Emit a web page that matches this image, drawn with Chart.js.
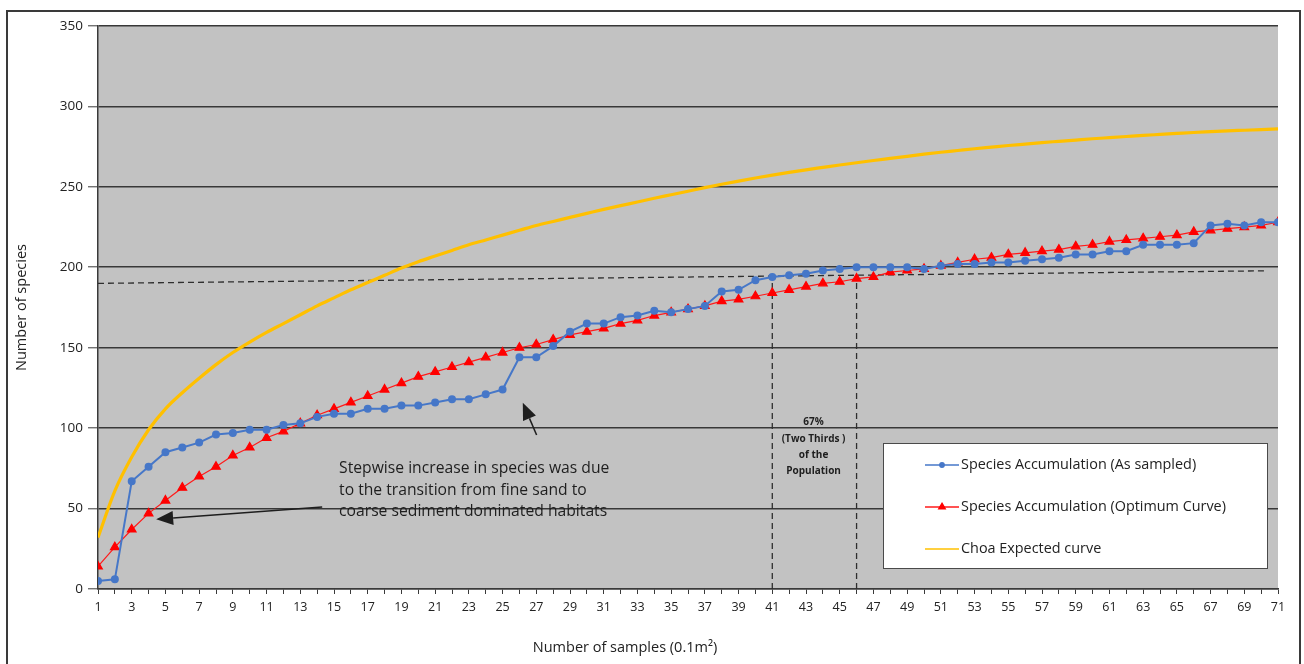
<!DOCTYPE html>
<html>
<head>
<meta charset="utf-8">
<script src="https://cdn.jsdelivr.net/npm/chart.js@4.4.1/dist/chart.umd.min.js"></script>
<style>
  html, body { margin: 0; padding: 0; background: #fff; }
  #wrap { width: 1304px; height: 664px; }
</style>
</head>
<body>
<div id="wrap"><canvas id="species-chart" width="1304" height="664"></canvas></div>
<script>
var samples = [1, 2, 3, 4, 5, 6, 7, 8, 9, 10, 11, 12, 13, 14, 15, 16, 17, 18, 19, 20,
    21, 22, 23, 24, 25, 26, 27, 28, 29, 30, 31, 32, 33, 34, 35, 36, 37, 38, 39, 40,
    41, 42, 43, 44, 45, 46, 47, 48, 49, 50, 51, 52, 53, 54, 55, 56, 57, 58, 59, 60,
    61, 62, 63, 64, 65, 66, 67, 68, 69, 70, 71];
var xTickLabels = [1, 3, 5, 7, 9, 11, 13, 15, 17, 19, 21, 23, 25, 27, 29, 31, 33, 35,
    37, 39, 41, 43, 45, 47, 49, 51, 53, 55, 57, 59, 61, 63, 65, 67, 69, 71];
var yTickLabels = [0, 50, 100, 150, 200, 250, 300, 350];

var asSampled = [5, 6, 67, 76, 85, 88, 91, 96, 97, 99, 99, 102, 103, 107, 109, 109, 112, 112, 114, 114,
    116, 118, 118, 121, 124, 144, 144, 151, 160, 165, 165, 169, 170, 173, 172, 174, 176, 185, 186, 192,
    194, 195, 196, 198, 199, 200, 200, 200, 200, 199, 201, 202, 202, 203, 203, 204, 205, 206, 208, 208,
    210, 210, 214, 214, 214, 215, 226, 227, 226, 228, 228];
var optimumCurve = [14, 26, 37, 47, 55, 63, 70, 76, 83, 88, 94, 98, 103, 108, 112, 116, 120, 124, 128, 132,
    135, 138, 141, 144, 147, 150, 152, 155, 158, 160, 162, 165, 167, 170, 172, 174, 176, 179, 180, 182,
    184, 186, 188, 190, 191, 193, 194, 197, 198, 199, 201, 203, 205, 206, 208, 209, 210, 211, 213, 214,
    216, 217, 218, 219, 220, 222, 223, 224, 225, 226, 228];
var chaoExpected = [32, 61, 82, 99, 112, 122, 131, 139.5, 147, 153.5, 159.5, 165, 170.5, 176, 181, 186, 190.5, 195, 199.5, 203.5,
    207, 210.5, 214, 217, 220, 223, 226, 228.5, 231, 233.5, 236, 238.3, 240.6, 242.9, 245.1, 247.3, 249.5, 251.6, 253.6, 255.5,
    257.3, 259, 260.6, 262.1, 263.6, 265, 266.4, 267.7, 269, 270.3, 271.5, 272.6, 273.7, 274.7, 275.7, 276.6, 277.5, 278.3, 279.1, 279.9,
    280.6, 281.3, 282, 282.6, 283.2, 283.8, 284.3, 284.8, 285.2, 285.6, 286];

// dashed guide lines (two thirds of the population)
var twoThirdsLine = [{x: 1, y: 190}, {x: 70.2, y: 197.8}];
var markerAt41 = [{x: 41, y: 0}, {x: 41, y: 194}];
var markerAt46 = [{x: 46, y: 0}, {x: 46, y: 193}];

var stepNote = ["Stepwise increase in species was due", "to the transition from fine sand to", "coarse sediment dominated habitats"];
var thirdsNote = ["67%", "(Two Thirds )", "of the", "Population"];

var fontFamily = "'Open Sans', 'Liberation Sans', sans-serif";

function toPoints(values) {
    var pts = [];
    for (var i = 0; i < samples.length; i++) {
        pts.push({x: samples[i], y: values[i]});
    }
    return pts;
}

function dashedSet(points) {
    return {
        label: "",
        data: points,
        borderColor: "#2e2e2e",
        borderWidth: 1.3,
        borderDash: [6, 4],
        pointRadius: 0,
        fill: false
    };
}

var backgroundPlugin = {
    id: "background",
    beforeDraw: function (chart) {
        var ctx = chart.ctx;
        var area = chart.chartArea;
        ctx.save();
        ctx.fillStyle = "#ffffff";
        ctx.fillRect(0, 0, chart.width, chart.height);
        ctx.fillStyle = "#c2c2c2";
        ctx.fillRect(area.left, area.top, area.right - area.left, area.bottom - area.top);
        ctx.strokeStyle = "#3a3a3a";
        ctx.lineWidth = 2;
        ctx.strokeRect(7, 11, 1293, 700);
        ctx.restore();
    }
};

function drawArrow(ctx, x1, y1, x2, y2) {
    var ang = Math.atan2(y2 - y1, x2 - x1);
    var headLen = 17;
    var headHalf = 7;
    var bx = x2 - headLen * Math.cos(ang);
    var by = y2 - headLen * Math.sin(ang);
    ctx.beginPath();
    ctx.moveTo(x1, y1);
    ctx.lineTo(bx, by);
    ctx.stroke();
    ctx.beginPath();
    ctx.moveTo(x2, y2);
    ctx.lineTo(bx + headHalf * Math.sin(ang), by - headHalf * Math.cos(ang));
    ctx.lineTo(bx - headHalf * Math.sin(ang), by + headHalf * Math.cos(ang));
    ctx.closePath();
    ctx.fill();
}

var notesPlugin = {
    id: "notes",
    afterDraw: function (chart) {
        var ctx = chart.ctx;
        var xs = chart.scales.x;
        var ys = chart.scales.y;
        ctx.save();

        // step note + arrows
        ctx.fillStyle = "#1e1e1e";
        ctx.strokeStyle = "#1e1e1e";
        ctx.lineWidth = 1.5;
        drawArrow(ctx, xs.getPixelForValue(14.3), ys.getPixelForValue(51), xs.getPixelForValue(4.45), ys.getPixelForValue(43.3));
        drawArrow(ctx, xs.getPixelForValue(27.02), ys.getPixelForValue(95.7), xs.getPixelForValue(26.2), ys.getPixelForValue(115.8));

        ctx.font = "15.7px " + fontFamily;
        ctx.textAlign = "left";
        ctx.textBaseline = "middle";
        var noteVals = [75.2, 61.5, 47.9];
        for (var i = 0; i < stepNote.length; i++) {
            ctx.fillText(stepNote[i], xs.getPixelForValue(15.3), ys.getPixelForValue(noteVals[i]));
        }

        ctx.font = "bold 10px " + fontFamily;
        ctx.textAlign = "center";
        var thirdVals = [103.5, 93.2, 83.3, 73.4];
        for (var j = 0; j < thirdsNote.length; j++) {
            ctx.fillText(thirdsNote[j], xs.getPixelForValue(43.45), ys.getPixelForValue(thirdVals[j]));
        }

        // x axis title
        ctx.font = "14.5px " + fontFamily;
        ctx.fillStyle = "#222";
        ctx.fillText("Number of samples (0.1m\u00b2)", 625, 648);

        // legend box
        ctx.fillStyle = "#ffffff";
        ctx.fillRect(883, 443, 384, 125);
        ctx.strokeStyle = "#4a4a4a";
        ctx.lineWidth = 1;
        ctx.strokeRect(883.5, 443.5, 384, 125);
        var rowY = [465, 507, 549];
        var sets = chart.data.datasets;
        var row = 0;
        ctx.font = "14.4px " + fontFamily;
        ctx.textAlign = "left";
        for (var k = 0; k < sets.length; k++) {
            var ds = sets[k];
            if (!ds.label) {
                continue;
            }
            var y = rowY[row];
            ctx.strokeStyle = ds.borderColor;
            ctx.lineWidth = 1.6;
            ctx.beginPath();
            ctx.moveTo(925, y);
            ctx.lineTo(959, y);
            ctx.stroke();
            if (ds.pointRadius > 0) {
                ctx.fillStyle = ds.pointBackgroundColor;
                ctx.strokeStyle = ds.pointBorderColor;
                Chart.helpers.drawPoint(ctx, {pointStyle: ds.pointStyle, radius: ds.pointRadius * 0.7, rotation: 0, borderWidth: 1}, 942, y);
            }
            ctx.fillStyle = "#222";
            ctx.fillText(ds.label, 961, y);
            row++;
        }
        ctx.restore();
    }
};

var speciesChart = new Chart("species-chart", {
    type: "line",
    data: {
        datasets: [
            {
                label: "Species Accumulation (As sampled)",
                data: toPoints(asSampled),
                borderColor: "#4677c8",
                borderWidth: 2,
                pointStyle: "circle",
                pointRadius: 3,
                pointBackgroundColor: "#4677c8",
                pointBorderColor: "#4677c8",
                fill: false
            },
            {
                label: "Species Accumulation (Optimum Curve)",
                data: toPoints(optimumCurve),
                borderColor: "#ff1a1a",
                borderWidth: 1.2,
                pointStyle: "triangle",
                pointRadius: 5,
                pointBackgroundColor: "#ff0000",
                pointBorderColor: "#ff0000",
                fill: false
            },
            {
                label: "Choa Expected curve",
                data: toPoints(chaoExpected),
                borderColor: "#ffc000",
                borderWidth: 3.2,
                pointRadius: 0,
                cubicInterpolationMode: "monotone",
                fill: false
            },
            dashedSet(twoThirdsLine),
            dashedSet(markerAt41),
            dashedSet(markerAt46)
        ]
    },
    options: {
        responsive: false,
        animation: false,
        layout: {
            padding: {top: 26, right: 26, bottom: 0, left: 0}
        },
        plugins: {
            legend: {display: false},
            tooltip: {enabled: false}
        },
        scales: {
            x: {
                type: "linear",
                min: 1,
                max: 71,
                afterBuildTicks: function (scale) {
                    scale.ticks = samples.map(function (v) { return {value: v}; });
                },
                afterFit: function (scale) {
                    scale.height = 75;
                },
                ticks: {
                    autoSkip: false,
                    maxRotation: 0,
                    padding: 6,
                    color: "#222",
                    font: {family: fontFamily, size: 12.5},
                    callback: function (value) {
                        return xTickLabels.indexOf(value) >= 0 ? String(value) : "";
                    }
                },
                grid: {
                    drawOnChartArea: false,
                    tickLength: 5,
                    tickColor: "#3a3a3a",
                    tickWidth: 1
                },
                border: {color: "#3a3a3a", width: 1.5}
            },
            y: {
                min: 0,
                max: 350,
                afterBuildTicks: function (scale) {
                    scale.ticks = yTickLabels.map(function (v) { return {value: v}; });
                },
                afterFit: function (scale) {
                    scale.width = 98;
                },
                ticks: {
                    padding: 5,
                    color: "#222",
                    font: {family: fontFamily, size: 13.5}
                },
                grid: {
                    color: "#383838",
                    lineWidth: 1.6,
                    tickLength: 10,
                    tickColor: "#3a3a3a",
                    tickWidth: 1
                },
                border: {color: "#3a3a3a", width: 1.5},
                title: {
                    display: true,
                    text: "Number of species",
                    color: "#222",
                    font: {family: fontFamily, size: 14.5},
                    padding: {top: 13, bottom: 0}
                }
            }
        }
    },
    plugins: [backgroundPlugin, notesPlugin]
});
</script>
</body>
</html>
